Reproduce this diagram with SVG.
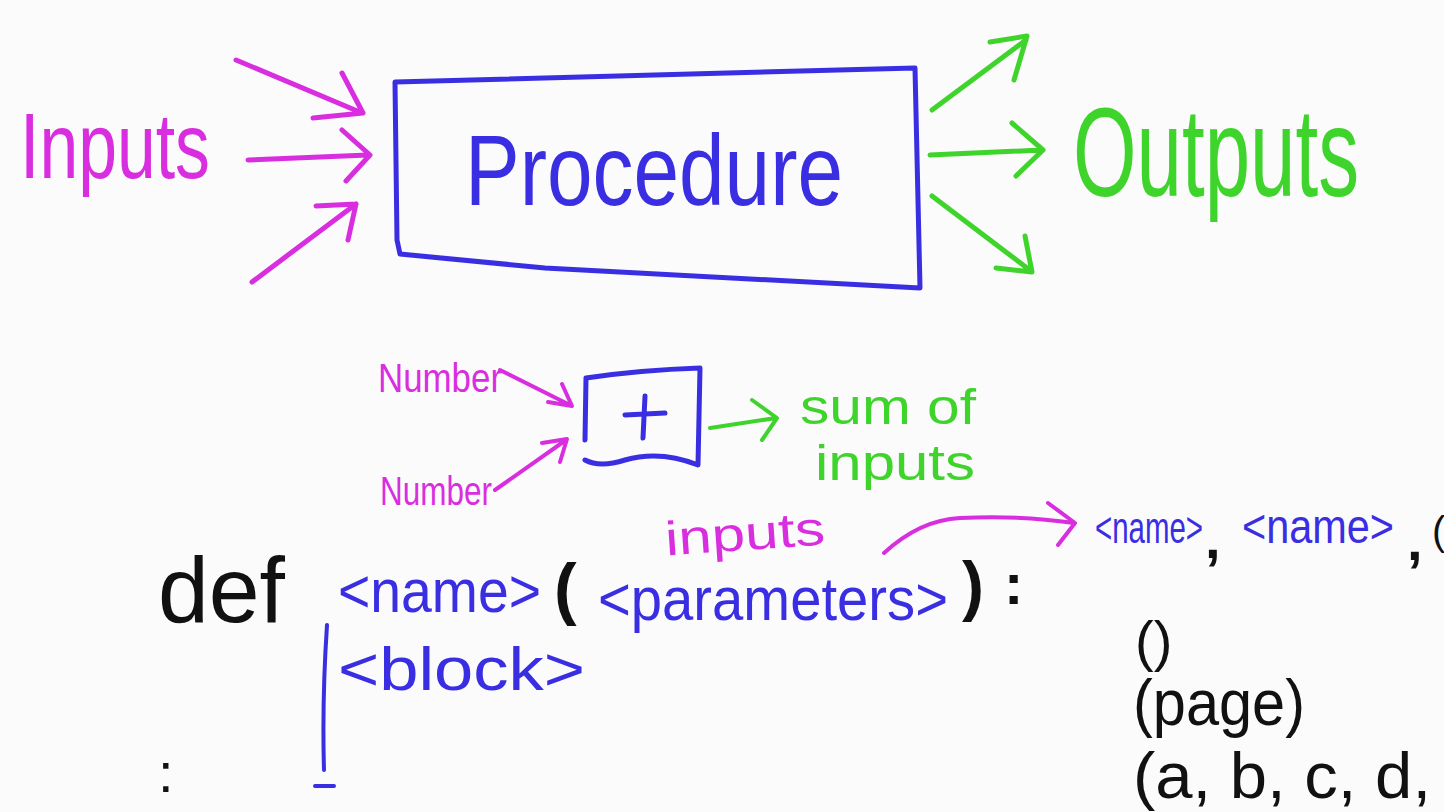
<svg xmlns="http://www.w3.org/2000/svg" width="1444" height="812" viewBox="0 0 1444 812">
<style>
.t{font-family:"Liberation Sans","DejaVu Sans",sans-serif;}
.m{fill:#d92ee0;} .b{fill:#3a2ee3;} .g{fill:#3fd42c;} .k{fill:#111;}
.sm{stroke:#d92ee0;} .sb{stroke:#3a2ee3;} .sg{stroke:#3fd42c;} .sk{stroke:#111;}
path{fill:none;stroke-linecap:round;stroke-linejoin:round;}
</style>
<rect width="1444" height="812" fill="#fbfbfb"/>

<g id="inputs-label">
<text class="t m" x="20" y="178" font-size="92" textLength="190" lengthAdjust="spacingAndGlyphs">Inputs</text>
</g>
<g id="procedure">
<path class="sb" stroke-width="5" d="M395,82 L915,68 L920,288 L545,268 L400,254 L397,240 Z"/>
<text class="t b" x="465" y="205" font-size="100" textLength="378" lengthAdjust="spacingAndGlyphs">Procedure</text>
</g>
<g id="outputs-label">
<text class="t g" x="1073" y="196" font-size="126" textLength="286" lengthAdjust="spacingAndGlyphs">Outputs</text>
</g>

<g id="plus">
<path class="sb" stroke-width="5" d="M586,378 Q640,370 700,368 L698,465 Q660,450 625,460 Q600,468 585,460 M585,440 L586,378"/>
<path class="sb" stroke-width="5" d="M625,415 L665,413 M645,396 L643,438"/>
</g>
<g id="number1"><text class="t m" x="378" y="392" font-size="40" textLength="124" lengthAdjust="spacingAndGlyphs">Number</text></g>
<g id="number2"><text class="t m" x="380" y="505" font-size="40" textLength="112" lengthAdjust="spacingAndGlyphs">Number</text></g>
<g id="sum">
<text class="t g" x="800" y="424" font-size="50" textLength="176" lengthAdjust="spacingAndGlyphs">sum of</text>
<text class="t g" x="815" y="480" font-size="50" textLength="160" lengthAdjust="spacingAndGlyphs">inputs</text>
</g>

<g id="inputs-note"><text class="t m" x="665" y="550" font-size="48" textLength="160" lengthAdjust="spacingAndGlyphs" transform="rotate(-4 745 535)">inputs</text></g>

<g id="def-line">
<text class="t k" x="158" y="622" font-size="92" textLength="127" lengthAdjust="spacingAndGlyphs">def</text>
<text class="t b" x="338" y="612" font-size="62" textLength="203" lengthAdjust="spacingAndGlyphs">&lt;name&gt;</text>
<text class="t k" x="554" y="612" font-size="68" font-weight="bold">(</text>
<text class="t b" x="598" y="620" font-size="62" textLength="350" lengthAdjust="spacingAndGlyphs">&lt;parameters&gt;</text>
<text class="t k" x="962" y="608" font-size="66" font-weight="bold">)</text>
<text class="t k" x="1004" y="604" font-size="58" font-weight="bold">:</text>
</g>
<g id="block">
<text class="t b" x="338" y="690" font-size="62" textLength="247" lengthAdjust="spacingAndGlyphs">&lt;block&gt;</text>
<path class="sb" stroke-width="4" d="M327,625 Q322,700 324,770 M315,786 L334,786"/>
</g>
<g id="dots">
<text class="t k" x="158" y="792" font-size="56">:</text>
</g>

<g id="params-list">
<text class="t b" x="1095" y="543" font-size="44" textLength="108" lengthAdjust="spacingAndGlyphs">&lt;name&gt;</text>
<text class="t k" x="1205" y="558" font-size="56" font-weight="bold">,</text>
<text class="t b" x="1242" y="543" font-size="48" textLength="152" lengthAdjust="spacingAndGlyphs">&lt;name&gt;</text>
<text class="t k" x="1407" y="560" font-size="56" font-weight="bold">,</text>
<text class="t k" x="1432" y="545" font-size="40">(</text>
</g>
<g id="examples">
<text class="t k" x="1135" y="660" font-size="56">()</text>
<text class="t k" x="1133" y="725" font-size="64" textLength="172" lengthAdjust="spacingAndGlyphs">(page)</text>
<text class="t k" x="1133" y="798" font-size="64" textLength="298" lengthAdjust="spacingAndGlyphs">(a, b, c, d,</text>
</g>

<g id="connectors">
<g class="sm" stroke-width="5">
<path d="M236,60 L362,113 M342,73 L363,113 L313,118"/>
<path d="M248,160 L368,155 M342,130 L370,155 L346,181"/>
<path d="M252,282 L356,204 M316,206 L356,204 L348,240"/>
<path d="M500,370 L570,405 M548,402 L572,406 L562,384" stroke-width="4"/>
<path d="M495,490 L566,440 M542,443 L567,439 L560,462" stroke-width="4"/>
<path d="M884,553 Q920,520 960,518 Q1020,515 1074,523 M1048,503 L1075,523 L1058,545" stroke-width="4"/>
</g>
<g class="sg" stroke-width="5">
<path d="M932,110 L1026,40 M990,42 L1027,36 L1014,80"/>
<path d="M930,155 L1042,150 M1012,123 L1043,150 L1016,176"/>
<path d="M932,196 L1031,271 M996,268 L1032,272 L1025,236"/>
<path d="M710,428 L776,418 M752,400 L777,418 L762,440" stroke-width="4"/>
</g>
</g>
</svg>
